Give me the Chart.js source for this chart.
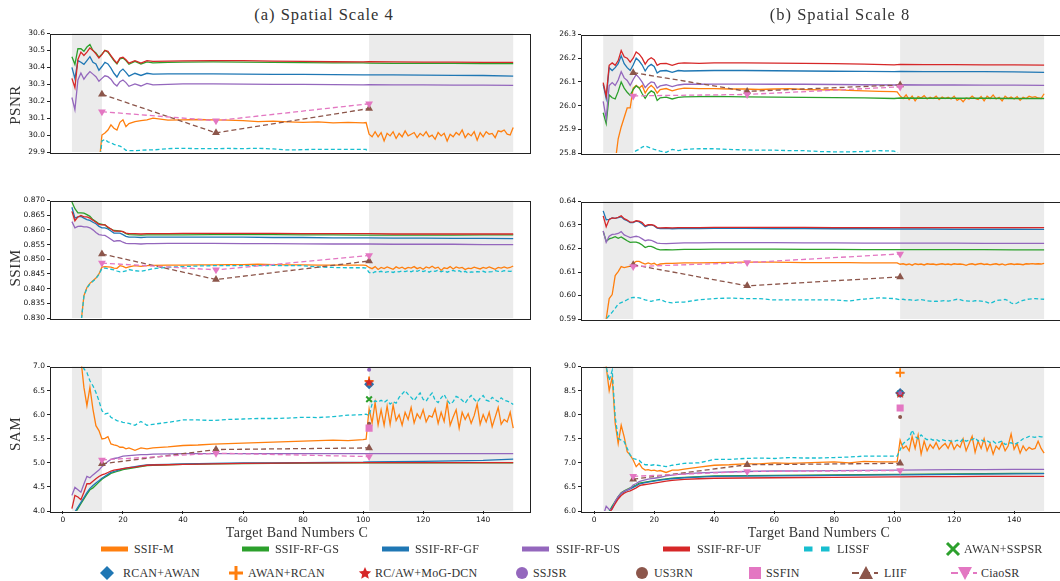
<!DOCTYPE html>
<html>
<head>
<meta charset="utf-8">
<script src="https://cdn.jsdelivr.net/npm/chart.js@4.4.1/dist/chart.umd.min.js"></script>
<style>
  html, body { margin: 0; padding: 0; background: #fff; overflow: hidden; }
  #wrap { position: relative; width: 1060px; height: 581px; overflow: hidden; }
  #wrap canvas { position: absolute; }
  .txt { position: absolute; font-family: "Liberation Serif", "Times New Roman", serif; color: #333; white-space: nowrap; }
  .lg { position: absolute; font-family: "Liberation Serif", "Times New Roman", serif; font-size: 12px; color: #333; white-space: nowrap; line-height: 14px; letter-spacing: 0.2px; }
  .lg-h { position: absolute; }
</style>
</head>
<body>
<div id="wrap"></div>
<script>
// ---- band positions (x values) ----
const bandsLine = [3,4,5,6,7,8,9,10,11,12,13,14,15,16,17,18,19,20,21,22,24,26,28,30,35,40,50,60,70,80,90,100,102,110,120,130,140,150];
const bandsNoisy = [3,4,5,6,7,8,9,10,11,12,13,14,15,16,17,18,19,20,21,22,
  24,26,28,30,35,40,45,50,55,60,65,70,75,80,85,90,95,100,101,
  102,103,104,105,106,107,108,109,110,111,112,113,114,115,116,117,118,119,120,121,122,123,124,125,
  126,127,128,129,130,131,132,133,134,135,136,137,138,139,140,141,142,143,144,145,146,147,148,149,150];
const sampledBands = [13, 51, 102];
const refBand = 102;
const shadedBands = [[3, 13], [102, 150]];
const bandTicks = [0, 20, 40, 60, 80, 100, 120, 140];

// ---- tick labels ----
const psnr4Ticks = [29.9, 30.0, 30.1, 30.2, 30.3, 30.4, 30.5, 30.6];
const psnr8Ticks = [25.8, 25.9, 26.0, 26.1, 26.2, 26.3];
const ssim4Ticks = [0.830, 0.835, 0.840, 0.845, 0.850, 0.855, 0.860, 0.865, 0.870];
const ssim8Ticks = [0.59, 0.60, 0.61, 0.62, 0.63, 0.64];
const sam4Ticks = [4.0, 4.5, 5.0, 5.5, 6.0, 6.5, 7.0];
const sam8Ticks = [6.0, 6.5, 7.0, 7.5, 8.0, 8.5, 9.0];

// ---- PSNR, scale 4 ----
const psnr4_M = [29.40,29.45,29.50,29.55,29.60,29.65,29.70,29.75,29.80,29.82,
  30.0,30.012,30.03,30.06,30.04,30.03,30.075,30.09,30.05,30.068,
  30.08,30.085,30.09,30.10,30.088,30.09,30.092,30.09,30.088,30.085,30.08,30.082,30.078,30.075,30.078,30.072,30.075,30.072,30.074,
  30.005,29.99,30.02,29.99,30.015,29.965,30.01,29.995,30.02,29.98,
  30.01,29.99,30.025,29.995,30.005,30.015,29.985,30.01,29.995,30.02,
  29.99,30.0,29.975,30.015,29.995,30.01,29.965,30.005,29.99,30.015,
  30.0,30.03,29.985,30.01,29.995,30.02,29.97,30.015,29.99,30.02,
  30.005,30.01,29.985,30.025,30.02,30.03,30.005,30.0,30.045];
const psnr4_GS = [30.463,30.418,30.51,30.51,30.495,30.52,30.535,30.50,30.485,30.46,30.478,30.50,30.49,30.465,30.44,30.42,30.45,30.455,30.44,30.418,
  30.435,30.42,30.432,30.427,30.43,30.431,30.432,30.431,30.43,30.428,30.427,30.426,30.425,30.424,30.423,30.423,30.422,30.422];
const psnr4_GF = [30.40,30.335,30.44,30.43,30.418,30.44,30.463,30.43,30.42,30.383,30.405,30.43,30.42,30.395,30.365,30.343,30.375,30.39,30.37,30.348,
  30.365,30.352,30.365,30.36,30.362,30.362,30.362,30.36,30.359,30.358,30.357,30.356,30.356,30.355,30.354,30.353,30.352,30.348];
const psnr4_US = [30.222,30.15,30.326,30.367,30.33,30.355,30.375,30.36,30.345,30.318,30.335,30.35,30.345,30.33,30.305,30.29,30.315,30.325,30.31,30.288,
  30.302,30.29,30.305,30.297,30.3,30.302,30.302,30.301,30.3,30.299,30.298,30.297,30.298,30.297,30.296,30.295,30.295,30.294];
const psnr4_UF = [30.335,30.28,30.447,30.49,30.47,30.49,30.515,30.50,30.48,30.455,30.475,30.50,30.495,30.47,30.445,30.425,30.455,30.46,30.445,30.425,
  30.44,30.425,30.44,30.435,30.437,30.438,30.44,30.44,30.437,30.435,30.433,30.432,30.433,30.432,30.431,30.431,30.43,30.43];
const psnr4_LISSF = [29.50,29.53,29.56,29.59,29.62,29.65,29.68,29.71,29.74,29.80,
  29.965,29.975,29.96,29.955,29.945,29.94,29.935,29.925,29.91,29.908,
  29.908,29.91,29.912,29.912,29.92,29.922,29.92,29.92,29.921,29.92,29.922,29.918,29.912,29.914,29.916,29.915,29.916,29.915,29.915,
  29.87,29.86,29.865,29.855,29.86,29.85,29.86,29.865,29.855,29.86,
  29.87,29.86,29.85,29.865,29.86,29.855,29.86,29.87,29.86,29.855,
  29.86,29.865,29.85,29.86,29.855,29.86,29.87,29.86,29.855,29.86,
  29.865,29.86,29.85,29.86,29.855,29.865,29.86,29.855,29.86,29.87,
  29.86,29.855,29.86,29.865,29.86,29.855,29.86,29.865,29.86];
const psnr4_LIIF = [30.241, 30.013, 30.157];
const psnr4_CiaoSR = [30.138, 30.085, 30.185];

// ---- PSNR, scale 8 ----
const psnr8_M = [25.40,25.50,25.60,25.70,25.76,25.86,25.91,25.95,25.99,25.99,
  26.074,26.085,26.074,26.085,26.053,26.074,26.085,26.074,26.053,26.068,
  26.072,26.062,26.07,26.074,26.072,26.072,26.07,26.07,26.068,26.07,26.072,26.068,26.066,26.067,26.064,26.062,26.06,26.059,26.058,
  26.041,26.03,26.045,26.025,26.04,26.02,26.038,26.032,26.042,26.028,
  26.035,26.03,26.04,26.025,26.036,26.03,26.035,26.028,26.04,26.022,
  26.03,26.016,26.032,26.028,26.04,26.03,26.026,26.038,26.02,26.04,
  26.03,26.045,26.028,26.035,26.02,26.04,26.03,26.036,26.028,26.038,
  26.022,26.035,26.03,26.04,26.035,26.038,26.032,26.03,26.05];
const psnr8_GS = [25.97,25.924,26.045,26.033,26.028,26.06,26.10,26.074,26.056,26.043,26.068,26.083,26.074,26.05,26.031,26.05,26.062,26.055,26.022,26.033,
  26.036,26.028,26.035,26.037,26.038,26.039,26.037,26.036,26.035,26.034,26.033,26.03,26.032,26.031,26.031,26.031,26.03,26.03];
const psnr8_GF = [26.09,26.03,26.16,26.148,26.16,26.177,26.21,26.177,26.16,26.148,26.171,26.20,26.188,26.171,26.146,26.165,26.174,26.165,26.137,26.146,
  26.148,26.14,26.148,26.146,26.147,26.148,26.148,26.147,26.146,26.145,26.144,26.143,26.144,26.143,26.143,26.143,26.142,26.14];
const psnr8_US = [26.018,25.945,26.085,26.097,26.085,26.108,26.143,26.117,26.106,26.085,26.11,26.131,26.117,26.099,26.076,26.09,26.10,26.097,26.074,26.083,
  26.088,26.08,26.087,26.09,26.09,26.091,26.091,26.09,26.09,26.089,26.088,26.087,26.088,26.087,26.087,26.086,26.086,26.085];
const psnr8_UF = [26.097,26.04,26.17,26.18,26.17,26.19,26.232,26.206,26.20,26.183,26.20,26.226,26.217,26.20,26.175,26.194,26.202,26.194,26.17,26.177,
  26.178,26.17,26.178,26.18,26.178,26.18,26.18,26.179,26.178,26.177,26.175,26.172,26.174,26.173,26.173,26.172,26.172,26.171];
const psnr8_LISSF = [25.60,25.62,25.64,25.66,25.68,25.70,25.72,25.74,25.76,25.78,
  25.80,25.81,25.815,25.825,25.83,25.825,25.82,25.815,25.812,25.808,
  25.803,25.815,25.81,25.815,25.818,25.818,25.815,25.813,25.812,25.812,25.81,25.81,25.806,25.805,25.805,25.806,25.81,25.808,25.803,
  25.78,25.77,25.775,25.765,25.77,25.76,25.77,25.775,25.765,25.77,
  25.78,25.77,25.76,25.775,25.77,25.765,25.77,25.78,25.77,25.765,
  25.77,25.775,25.76,25.77,25.765,25.77,25.78,25.77,25.765,25.77,
  25.775,25.77,25.76,25.77,25.765,25.775,25.77,25.765,25.77,25.78,
  25.77,25.765,25.77,25.775,25.77,25.765,25.77,25.775,25.77];
const psnr8_LIIF = [26.139, 26.06, 26.087];
const psnr8_CiaoSR = [26.041, 26.047, 26.079];

// ---- SSIM, scale 4 ----
const ssim4_M = [0.79,0.80,0.815,0.828,0.8376,0.8404,0.8418,0.8427,0.8436,0.845,
  0.8473,0.8475,0.8474,0.8473,0.847,0.8469,0.8478,0.8476,0.8471,0.8474,
  0.8478,0.8476,0.8478,0.8479,0.848,0.848,0.8481,0.8481,0.8482,0.8482,0.8483,0.8482,0.8481,0.8481,0.848,0.848,0.848,0.848,0.8479,
  0.8472,0.8468,0.8475,0.8465,0.8472,0.8468,0.8474,0.847,0.8466,0.8474,
  0.8469,0.8473,0.8467,0.8472,0.847,0.8475,0.8468,0.8472,0.8466,0.8474,
  0.847,0.8476,0.8469,0.8473,0.8462,0.8471,0.8468,0.8475,0.8467,0.8474,
  0.847,0.8472,0.8465,0.847,0.8468,0.8473,0.847,0.8467,0.8472,0.8469,
  0.8474,0.847,0.8466,0.8472,0.847,0.8474,0.847,0.8472,0.8477];
const ssim4_GS = [0.8695,0.8672,0.8658,0.8658,0.8657,0.8652,0.8646,0.8635,0.8628,0.8621,0.8619,0.8617,0.8607,0.8603,0.8598,0.8597,0.8596,0.8594,0.8587,0.8584,
  0.8583,0.8582,0.8583,0.8583,0.8583,0.8583,0.8584,0.8584,0.8584,0.8583,0.8583,0.8582,0.8582,0.8582,0.8582,0.8582,0.8583,0.8583];
const ssim4_GF = [0.8677,0.864,0.8644,0.8646,0.864,0.8635,0.8632,0.8626,0.8621,0.8612,0.8607,0.8607,0.8603,0.8596,0.8589,0.8589,0.8589,0.8584,0.8578,0.8575,
  0.8575,0.8574,0.8575,0.8575,0.8575,0.8575,0.8575,0.8575,0.8574,0.8574,0.8573,0.8573,0.8573,0.8572,0.8572,0.8571,0.8571,0.857];
const ssim4_US = [0.8628,0.8607,0.8612,0.8613,0.861,0.861,0.8607,0.86,0.8591,0.8584,0.8582,0.8581,0.8575,0.8568,0.8561,0.8563,0.8563,0.8558,0.8554,0.8553,
  0.8553,0.8552,0.8553,0.8553,0.8554,0.8554,0.8554,0.8553,0.8553,0.8552,0.8552,0.8552,0.8552,0.8551,0.8551,0.8551,0.855,0.855];
const ssim4_UF = [0.8663,0.8631,0.8644,0.8649,0.8644,0.8644,0.864,0.8633,0.8626,0.8619,0.8617,0.8617,0.861,0.8603,0.8596,0.8596,0.8596,0.8594,0.8589,0.8587,
  0.8587,0.8586,0.8587,0.8587,0.8587,0.8588,0.8588,0.8588,0.8588,0.8587,0.8587,0.8587,0.8587,0.8586,0.8586,0.8586,0.8586,0.8586];
const ssim4_LISSF = [0.79,0.80,0.815,0.828,0.8374,0.8402,0.8416,0.8425,0.8434,0.8448,
  0.8469,0.847,0.8468,0.8466,0.8464,0.846,0.8457,0.8458,0.846,0.8465,
  0.8461,0.8459,0.8463,0.8468,0.8473,0.8475,0.8477,0.8478,0.8478,0.8478,0.8478,0.8479,0.8478,0.8478,0.8474,0.8472,0.8471,0.8471,0.847,
  0.8455,0.8452,0.8458,0.8456,0.8459,0.8455,0.8457,0.8458,0.8455,0.8459,
  0.8457,0.846,0.8458,0.8461,0.8457,0.8462,0.8459,0.8463,0.8458,0.8462,
  0.8456,0.8461,0.8459,0.8463,0.8457,0.8461,0.8456,0.846,0.8462,0.8458,
  0.8461,0.8455,0.8459,0.8453,0.8457,0.8456,0.8458,0.8457,0.8459,0.8455,
  0.8457,0.8458,0.8461,0.8459,0.8458,0.8461,0.846,0.8459,0.846];
const ssim4_LIIF = [0.8518, 0.8431, 0.8494];
const ssim4_CiaoSR = [0.8487, 0.8464, 0.8513];

// ---- SSIM, scale 8 ----
const ssim8_M = [0.582,0.59,0.5987,0.6004,0.6085,0.6102,0.6123,0.6119,0.6122,0.6125,
  0.6137,0.6145,0.6145,0.6139,0.6134,0.6139,0.6134,0.6137,0.6129,0.6134,
  0.6137,0.6137,0.6138,0.6139,0.6139,0.614,0.6141,0.6142,0.6142,0.6142,0.6141,0.614,0.614,0.614,0.614,0.6139,0.6139,0.6139,0.6139,
  0.6133,0.6135,0.6131,0.6134,0.6129,0.6135,0.6132,0.6134,0.613,0.6135,
  0.6133,0.6134,0.6131,0.6133,0.6135,0.6132,0.6134,0.6131,0.6135,0.6133,
  0.6134,0.6132,0.6128,0.6133,0.6135,0.6131,0.6134,0.6136,0.6132,0.6134,
  0.613,0.6133,0.6135,0.6131,0.6134,0.6129,0.6133,0.6135,0.6132,0.6134,
  0.6133,0.6131,0.6135,0.6134,0.6136,0.6134,0.6135,0.6134,0.6137];
const ssim8_GS = [0.6273,0.6231,0.6241,0.6245,0.625,0.6243,0.6249,0.6241,0.6233,0.6226,0.6227,0.6227,0.6223,0.6215,0.6204,0.6209,0.6209,0.6204,0.6197,0.6194,
  0.6195,0.6194,0.6195,0.6196,0.6196,0.6197,0.6197,0.6197,0.6196,0.6196,0.6195,0.6195,0.6195,0.6195,0.6195,0.6195,0.6194,0.6194];
const ssim8_GF = [0.636,0.6322,0.6324,0.633,0.6328,0.6331,0.6335,0.6324,0.6318,0.631,0.631,0.6316,0.6313,0.6304,0.6293,0.6298,0.6301,0.6296,0.6287,0.6285,
  0.6286,0.6284,0.6285,0.6285,0.6285,0.6286,0.6286,0.6285,0.6285,0.6284,0.6284,0.6283,0.6283,0.6283,0.6282,0.6282,0.6282,0.6281];
const ssim8_US = [0.6275,0.6226,0.6252,0.626,0.6261,0.6264,0.6272,0.6258,0.6252,0.6246,0.6249,0.6252,0.6249,0.6241,0.6233,0.6237,0.6235,0.6229,0.6223,0.6222,
  0.6221,0.6222,0.6223,0.6224,0.6224,0.6225,0.6225,0.6225,0.6224,0.6224,0.6223,0.6223,0.6223,0.6223,0.6223,0.6222,0.6222,0.6222];
const ssim8_UF = [0.6339,0.6293,0.6324,0.633,0.6328,0.6333,0.6339,0.6327,0.6321,0.6312,0.6312,0.6318,0.6316,0.631,0.6296,0.6301,0.6301,0.6298,0.6289,0.6288,
  0.6289,0.6288,0.6289,0.6289,0.6289,0.629,0.629,0.629,0.629,0.6289,0.6289,0.6289,0.6289,0.6289,0.6289,0.6289,0.6289,0.6289];
const ssim8_LISSF = [0.585,0.59,0.5915,0.5929,0.5945,0.5964,0.597,0.5975,0.5982,0.5989,
  0.5992,0.5991,0.599,0.5986,0.5981,0.5978,0.5975,0.5979,0.5981,0.5983,
  0.5972,0.5969,0.5972,0.5972,0.5982,0.5987,0.5989,0.5987,0.5987,0.5981,0.5981,0.5981,0.5981,0.5981,0.5977,0.5985,0.599,0.5987,0.5985,
  0.5982,0.5984,0.5981,0.5982,0.598,0.5979,0.5981,0.5982,0.598,0.5977,
  0.5976,0.5975,0.5976,0.5975,0.5977,0.5978,0.5976,0.5979,0.5981,0.5984,
  0.5982,0.5978,0.5977,0.5976,0.5975,0.5978,0.5977,0.5976,0.5975,0.5971,
  0.5966,0.5972,0.5978,0.598,0.5981,0.5983,0.5978,0.5968,0.5964,0.5968,
  0.5975,0.5979,0.5983,0.5985,0.5986,0.5987,0.5986,0.5985,0.5984];
const ssim8_LIIF = [0.6131, 0.6041, 0.6079];
const ssim8_CiaoSR = [0.6123, 0.614, 0.6177];

// ---- SAM, scale 4 ----
const sam4_M = [8.6,8.1,7.6,7.15,6.566,6.186,6.566,6.117,5.772,5.669,
  5.497,5.51,5.545,5.393,5.375,5.359,5.324,5.324,5.29,5.31,
  5.26,5.31,5.29,5.31,5.33,5.36,5.37,5.39,5.4,5.41,5.42,5.43,5.44,5.45,5.46,5.47,5.46,5.48,5.49,
  6.12,5.83,6.25,5.79,6.1,5.78,6.18,5.8,6.2,5.88,
  6.0,5.78,6.05,5.9,6.15,5.83,6.02,5.92,6.1,5.85,
  5.98,5.95,6.12,5.82,6.05,5.86,6.25,5.78,5.95,6.1,
  5.72,6.05,5.9,6.02,5.82,5.98,6.22,5.8,6.0,5.85,
  6.05,5.75,5.95,6.15,5.8,5.9,5.85,6.05,5.72];
const sam4_GS = [3.82,3.95,4.05,4.15,4.25,4.35,4.44,4.48,4.54,4.6,4.66,4.7,4.74,4.78,4.8,4.82,4.84,4.86,4.87,4.88,
  4.9,4.92,4.94,4.95,4.96,4.97,4.98,4.985,4.99,4.995,5.0,5.0,5.0,5.0,5.0,5.0,5.0,5.0];
const sam4_GF = [3.85,3.98,4.08,4.18,4.28,4.38,4.47,4.53,4.58,4.63,4.68,4.72,4.76,4.8,4.82,4.84,4.86,4.88,4.89,4.9,
  4.92,4.94,4.955,4.96,4.97,4.98,4.99,5.0,5.0,5.005,5.01,5.015,5.02,5.025,5.03,5.04,5.05,5.075];
const sam4_US = [4.324,4.49,4.44,4.39,4.56,4.72,4.69,4.75,4.8,4.85,4.92,4.97,5.03,5.07,5.09,5.1,5.12,5.14,5.145,5.15,
  5.16,5.17,5.17,5.18,5.185,5.19,5.19,5.19,5.19,5.19,5.19,5.19,5.19,5.19,5.19,5.19,5.19,5.19];
const sam4_UF = [4.048,4.324,4.29,4.234,4.39,4.566,4.566,4.62,4.67,4.717,4.75,4.77,4.8,4.83,4.85,4.86,4.87,4.88,4.89,4.9,
  4.91,4.93,4.95,4.955,4.96,4.97,4.98,4.99,4.995,5.0,5.0,5.005,5.005,5.005,5.005,5.005,5.005,5.005];
const sam4_LISSF = [9.0,8.5,8.0,7.4,6.95,6.876,6.703,6.6,6.462,6.29,
  6.083,6.014,6.03,5.945,5.91,5.876,5.86,5.841,5.83,5.82,
  5.78,5.86,5.78,5.8,5.84,5.89,5.89,5.88,5.9,5.91,5.92,5.92,5.93,5.945,5.94,5.96,5.99,6.0,6.01,
  5.98,6.22,6.29,6.26,6.3,6.25,6.3,6.22,6.27,6.24,
  6.36,6.43,6.5,6.42,6.36,6.29,6.38,6.45,6.32,6.28,
  6.38,6.45,6.3,6.25,6.35,6.42,6.3,6.22,6.27,6.38,
  6.35,6.3,6.24,6.33,6.4,6.32,6.26,6.34,6.4,6.3,
  6.28,6.36,6.31,6.27,6.35,6.3,6.28,6.26,6.21];
const sam4_LIIF = [4.979, 5.276, 5.31];
const sam4_CiaoSR = [5.06, 5.2, 5.13];
// AWAN+SSPSR, RCAN+AWAN, AWAN+RCAN, RC/AW+MoG-DCN, SSJSR, US3RN, SSFIN
const sam4_Refs = [6.32, 6.63, 6.70, 6.67, 6.93, 5.81, 5.72];

// ---- SAM, scale 8 ----
const sam8_M = [9.6,9.0,8.5,8.78,7.82,7.4,7.78,7.54,7.23,7.16,
  7.06,6.92,6.99,6.89,6.85,6.86,6.84,6.85,6.83,6.84,
  6.8,6.85,6.85,6.87,6.91,6.95,6.96,6.98,6.98,7.0,6.99,7.0,7.01,7.02,7.0,7.03,7.02,7.02,7.02,
  7.47,7.3,7.35,7.25,7.55,7.3,7.58,7.18,7.45,7.25,
  7.38,7.3,7.42,7.28,7.35,7.4,7.3,7.45,7.28,7.38,
  7.32,7.5,7.25,7.4,7.55,7.22,7.45,7.3,7.5,7.25,
  7.4,7.18,7.35,7.28,7.42,7.25,7.35,7.6,7.28,7.4,
  7.2,7.35,7.25,7.32,7.28,7.3,7.45,7.3,7.2];
const sam8_GS = [5.7,5.85,5.99,6.1,6.2,6.3,6.38,6.42,6.45,6.48,6.51,6.54,6.58,6.59,6.6,6.61,6.62,6.63,6.64,6.65,
  6.665,6.68,6.69,6.7,6.715,6.73,6.735,6.74,6.745,6.75,6.755,6.76,6.76,6.765,6.77,6.775,6.78,6.78];
const sam8_GF = [5.68,5.83,5.97,6.08,6.18,6.28,6.36,6.4,6.43,6.46,6.49,6.52,6.56,6.575,6.59,6.6,6.61,6.62,6.63,6.64,
  6.655,6.67,6.68,6.69,6.705,6.72,6.725,6.73,6.735,6.74,6.745,6.75,6.75,6.755,6.76,6.765,6.77,6.775];
const sam8_US = [5.9,6.1,6.03,6.04,6.2,6.3,6.37,6.41,6.44,6.47,6.54,6.57,6.61,6.63,6.645,6.66,6.67,6.68,6.69,6.7,
  6.73,6.745,6.76,6.77,6.79,6.8,6.82,6.83,6.835,6.84,6.845,6.85,6.85,6.855,6.86,6.86,6.865,6.865];
const sam8_UF = [5.65,5.8,5.95,6.05,6.15,6.25,6.32,6.37,6.4,6.42,6.45,6.48,6.52,6.54,6.55,6.56,6.57,6.58,6.59,6.6,
  6.62,6.635,6.645,6.655,6.67,6.68,6.685,6.69,6.695,6.7,6.705,6.71,6.71,6.712,6.715,6.717,6.72,6.72];
const sam8_LISSF = [9.5,9.0,8.71,8.92,7.95,7.51,7.47,7.44,7.3,7.16,
  7.09,7.07,7.05,6.99,6.96,6.96,6.95,6.96,6.95,6.94,
  6.92,6.95,6.97,6.99,7.0,7.07,7.07,7.09,7.1,7.09,7.11,7.1,7.1,7.11,7.12,7.14,7.14,7.14,7.14,
  7.27,7.4,7.45,7.5,7.68,7.55,7.5,7.58,7.52,7.48,
  7.5,7.47,7.49,7.45,7.48,7.46,7.47,7.45,7.44,7.47,
  7.43,7.5,7.45,7.47,7.48,7.52,7.45,7.48,7.44,7.46,
  7.42,7.45,7.4,7.43,7.45,7.38,7.4,7.42,7.38,7.41,
  7.45,7.5,7.52,7.55,7.54,7.53,7.55,7.54,7.54];
const sam8_LIIF = [6.66, 6.96, 6.99];
const sam8_CiaoSR = [6.72, 6.82, 6.84];
const sam8_Refs = [8.44, 8.45, 8.87, 8.43, 8.45, 7.95, 8.14];

// ---- styling ----
const C = {
  orange: '#ff7f0e', green: '#2ca02c', blue: '#1f77b4', purple: '#9467bd',
  red: '#d62728', cyan: '#17becf', brown: '#8c564b', pink: '#e377c2'
};

function starCanvas(r, color) {
  const s = Math.ceil(r * 2 + 2);
  const c = document.createElement('canvas');
  c.width = c.height = s;
  const g = c.getContext('2d');
  g.fillStyle = color;
  g.beginPath();
  for (let i = 0; i < 10; i++) {
    const rr = i % 2 ? r * 0.45 : r;
    const a = -Math.PI / 2 + i * Math.PI / 5;
    g.lineTo(s / 2 + rr * Math.cos(a), s / 2 + rr * Math.sin(a));
  }
  g.closePath();
  g.fill();
  return c;
}

const refStyles = [
  { pointStyle: 'crossRot', pointRadius: 4, pointBorderColor: C.green, pointBorderWidth: 2 },
  { pointStyle: 'rectRot', pointRadius: 5, pointBackgroundColor: C.blue, pointBorderColor: C.blue, pointBorderWidth: 0 },
  { pointStyle: 'cross', pointRadius: 4.5, pointBorderColor: C.orange, pointBorderWidth: 1.8 },
  { pointStyle: starCanvas(5, C.red), pointRadius: 5 },
  { pointStyle: 'circle', pointRadius: 2, pointBackgroundColor: C.purple, pointBorderColor: C.purple, pointBorderWidth: 0 },
  { pointStyle: 'circle', pointRadius: 2, pointBackgroundColor: C.brown, pointBorderColor: C.brown, pointBorderWidth: 0 },
  { pointStyle: 'rect', pointRadius: 5, pointBackgroundColor: C.pink, pointBorderColor: C.pink, pointBorderWidth: 0 }
];

const leftX = { min: -4.3, max: 155.6 };
const rightX = { min: -4.4, max: 157.3 };

const panels = [
  { left: 50, top: 33, right: 530, bottom: 178, x: leftX, yMin: 29.9, yMax: 30.6, ticks: psnr4Ticks, dec: 1, xAxis: false,
    M: psnr4_M, GS: psnr4_GS, GF: psnr4_GF, US: psnr4_US, UF: psnr4_UF, LISSF: psnr4_LISSF, LIIF: psnr4_LIIF, Ciao: psnr4_CiaoSR },
  { left: 581, top: 34, right: 1066, bottom: 179, x: rightX, yMin: 25.8, yMax: 26.3, ticks: psnr8Ticks, dec: 1, xAxis: false,
    M: psnr8_M, GS: psnr8_GS, GF: psnr8_GF, US: psnr8_US, UF: psnr8_UF, LISSF: psnr8_LISSF, LIIF: psnr8_LIIF, Ciao: psnr8_CiaoSR },
  { left: 50, top: 200, right: 530, bottom: 344, x: leftX, yMin: 0.830, yMax: 0.870, ticks: ssim4Ticks, dec: 3, xAxis: false,
    M: ssim4_M, GS: ssim4_GS, GF: ssim4_GF, US: ssim4_US, UF: ssim4_UF, LISSF: ssim4_LISSF, LIIF: ssim4_LIIF, Ciao: ssim4_CiaoSR },
  { left: 581, top: 201, right: 1066, bottom: 345, x: rightX, yMin: 0.59, yMax: 0.64, ticks: ssim8Ticks, dec: 2, xAxis: false,
    M: ssim8_M, GS: ssim8_GS, GF: ssim8_GF, US: ssim8_US, UF: ssim8_UF, LISSF: ssim8_LISSF, LIIF: ssim8_LIIF, Ciao: ssim8_CiaoSR },
  { left: 50, top: 366, right: 530, bottom: 511, x: leftX, yMin: 4.0, yMax: 7.0, ticks: sam4Ticks, dec: 1, xAxis: true,
    M: sam4_M, GS: sam4_GS, GF: sam4_GF, US: sam4_US, UF: sam4_UF, LISSF: sam4_LISSF, LIIF: sam4_LIIF, Ciao: sam4_CiaoSR, refs: sam4_Refs },
  { left: 581, top: 366, right: 1066, bottom: 511, x: rightX, yMin: 6.0, yMax: 9.0, ticks: sam8Ticks, dec: 1, xAxis: true,
    M: sam8_M, GS: sam8_GS, GF: sam8_GF, US: sam8_US, UF: sam8_UF, LISSF: sam8_LISSF, LIIF: sam8_LIIF, Ciao: sam8_CiaoSR, refs: sam8_Refs }
];

Chart.defaults.font.family = "'DejaVu Sans', sans-serif";
Chart.defaults.font.size = 7.5;
Chart.defaults.color = '#111';

const frame = {
  id: 'frame',
  beforeDatasetsDraw(chart) {
    const { ctx, chartArea: a, scales: { x } } = chart;
    ctx.save();
    ctx.fillStyle = '#ebebeb';
    shadedBands.forEach(([b0, b1]) => {
      const x0 = x.getPixelForValue(b0), x1 = x.getPixelForValue(b1);
      ctx.fillRect(x0, a.top, x1 - x0, a.bottom - a.top);
    });
    ctx.restore();
  },
  afterDatasetsDraw(chart) {
    const { ctx, chartArea: a } = chart;
    ctx.save();
    ctx.strokeStyle = '#222';
    ctx.lineWidth = 1;
    ctx.strokeRect(Math.round(a.left) + 0.5, Math.round(a.top) + 0.5, Math.round(a.right - a.left), Math.round(a.bottom - a.top));
    ctx.restore();
  }
};

const wrap = document.getElementById('wrap');
const pts = (xs, ys) => ys.slice(0, xs.length).map((y, i) => ({ x: xs[i], y }));

function makePanel(P) {
  const cv = document.createElement('canvas');
  const padT = 6, padR = 8, axisW = 50, axisH = 26;
  const w = P.right - P.left + axisW + padR;
  const h = P.bottom - P.top + padT + (P.xAxis ? axisH : 6);
  cv.width = w; cv.height = h;
  cv.style.width = w + 'px'; cv.style.height = h + 'px';
  cv.style.left = (P.left - axisW) + 'px';
  cv.style.top = (P.top - padT) + 'px';
  wrap.appendChild(cv);

  const line = (data, color, dash) => ({
    data, borderColor: color, backgroundColor: color, borderWidth: 1.3,
    borderDash: dash || [], pointRadius: 0, fill: false, tension: 0
  });
  const ds = [
    line(pts(bandsNoisy, P.M), C.orange),
    line(pts(bandsLine, P.GS), C.green),
    line(pts(bandsLine, P.GF), C.blue),
    line(pts(bandsLine, P.US), C.purple),
    line(pts(bandsLine, P.UF), C.red),
    line(pts(bandsNoisy, P.LISSF), C.cyan, [4, 2.5])
  ];
  if (P.refs) {
    P.refs.forEach((v, i) => {
      ds.push(Object.assign({ data: [{ x: refBand, y: v }], showLine: false, borderWidth: 0 }, refStyles[i]));
    });
  }
  ds.push(Object.assign(line(pts(sampledBands, P.LIIF), C.brown, [5, 3]),
    { pointStyle: 'triangle', pointRadius: 4.5, pointBackgroundColor: C.brown, pointBorderColor: C.brown, pointBorderWidth: 0 }));
  ds.push(Object.assign(line(pts(sampledBands, P.Ciao), C.pink, [5, 3]),
    { pointStyle: 'triangle', pointRotation: 180, pointRadius: 4.5, pointBackgroundColor: C.pink, pointBorderColor: C.pink, pointBorderWidth: 0 }));
  ds.forEach((d, i) => { d.order = -i; });

  new Chart(cv, {
    type: 'line',
    data: { datasets: ds },
    options: {
      responsive: false, animation: false, devicePixelRatio: 1, events: [],
      layout: { padding: { left: 0, top: padT, right: padR, bottom: P.xAxis ? 0 : 6 } },
      plugins: { legend: { display: false }, tooltip: { enabled: false } },
      scales: {
        x: {
          type: 'linear', display: P.xAxis, min: P.x.min, max: P.x.max,
          afterBuildTicks: s => { s.ticks = bandTicks.map(v => ({ value: v })); },
          afterFit: s => { s.height = axisH; },
          ticks: { autoSkip: false, maxRotation: 0, padding: 2, callback: v => String(v) },
          grid: { display: true, drawOnChartArea: false, drawTicks: true, tickLength: 3, color: '#222' },
          border: { display: false }
        },
        y: {
          type: 'linear', min: P.yMin, max: P.yMax,
          afterBuildTicks: s => { s.ticks = P.ticks.map(v => ({ value: v })); },
          afterFit: s => { s.width = axisW; },
          ticks: { autoSkip: false, padding: 2, callback: v => Number(v).toFixed(P.dec) },
          grid: { display: true, drawOnChartArea: false, drawTicks: true, tickLength: 3, color: '#222' },
          border: { display: false }
        }
      }
    },
    plugins: [frame]
  });
}
panels.forEach(makePanel);

// ---- text ----
function addText(str, cx, cy, size, rotate, spacing) {
  const d = document.createElement('div');
  d.className = 'txt';
  d.textContent = str;
  d.style.fontSize = size + 'px';
  if (spacing) d.style.letterSpacing = spacing + 'px';
  d.style.left = cx + 'px';
  d.style.top = cy + 'px';
  d.style.transform = 'translate(-50%, -50%)' + (rotate ? ' rotate(-90deg)' : '');
  wrap.appendChild(d);
}
addText('(a) Spatial Scale 4', 324, 15, 16.5, false, 1);
addText('(b) Spatial Scale 8', 840, 15, 16.5, false, 1);
addText('PSNR', 15, 105, 15, true, 0.5);
addText('SSIM', 15, 268, 15, true, 0.5);
addText('SAM', 15, 434, 15, true, 0.5);
addText('Target Band Numbers C', 297, 533, 14, false, 0.3);
addText('Target Band Numbers C', 819, 533, 14, false, 0.3);

// ---- legend ----
function svgHandle(kind, color) {
  let s = '';
  if (kind === 'line') s = `<line x1="0" y1="8" x2="27" y2="8" stroke="${color}" stroke-width="5"/>`;
  else if (kind === 'dash') s = `<line x1="0" y1="8" x2="26" y2="8" stroke="${color}" stroke-width="5" stroke-dasharray="8.5,8.5"/>`;
  else if (kind === 'x') s = `<line x1="2" y1="2" x2="14" y2="14" stroke="${color}" stroke-width="3"/><line x1="2" y1="14" x2="14" y2="2" stroke="${color}" stroke-width="3"/>`;
  else if (kind === 'diamond') s = `<polygon points="8,1 15,8 8,15 1,8" fill="${color}"/>`;
  else if (kind === 'plus') s = `<line x1="8" y1="1" x2="8" y2="15" stroke="${color}" stroke-width="3"/><line x1="1" y1="8" x2="15" y2="8" stroke="${color}" stroke-width="3"/>`;
  else if (kind === 'star') {
    const p = [];
    for (let i = 0; i < 10; i++) {
      const r = i % 2 ? 3 : 6.5, a = -Math.PI / 2 + i * Math.PI / 5;
      p.push((8 + r * Math.cos(a)).toFixed(2) + ',' + (8.5 + r * Math.sin(a)).toFixed(2));
    }
    s = `<polygon points="${p.join(' ')}" fill="${color}"/>`;
  }
  else if (kind === 'circle') s = `<circle cx="8" cy="8" r="6" fill="${color}"/>`;
  else if (kind === 'square') s = `<rect x="2" y="2" width="12" height="12" fill="${color}"/>`;
  else if (kind === 'tri') s = `<line x1="0" y1="8" x2="26" y2="8" stroke="${color}" stroke-width="2" stroke-dasharray="7,4"/><polygon points="14,1 21,14 7,14" fill="${color}"/>`;
  else if (kind === 'tridown') s = `<line x1="0" y1="8" x2="26" y2="8" stroke="${color}" stroke-width="2" stroke-dasharray="7,4"/><polygon points="7,2 21,2 14,15" fill="${color}"/>`;
  return `<svg width="28" height="16" xmlns="http://www.w3.org/2000/svg">${s}</svg>`;
}

const legendItems = [
  { label: 'SSIF-M', kind: 'line', color: C.orange, hx: 101, tx: 134, y: 549 },
  { label: 'SSIF-RF-GS', kind: 'line', color: C.green, hx: 242, tx: 275, y: 549 },
  { label: 'SSIF-RF-GF', kind: 'line', color: C.blue, hx: 382, tx: 415, y: 549 },
  { label: 'SSIF-RF-US', kind: 'line', color: C.purple, hx: 522, tx: 556, y: 549 },
  { label: 'SSIF-RF-UF', kind: 'line', color: C.red, hx: 663, tx: 697, y: 549 },
  { label: 'LISSF', kind: 'dash', color: C.cyan, hx: 804, tx: 837, y: 549 },
  { label: 'AWAN+SSPSR', kind: 'x', color: C.green, hx: 945, tx: 964, y: 549 },
  { label: 'RCAN+AWAN', kind: 'diamond', color: C.blue, hx: 99, tx: 123, y: 573 },
  { label: 'AWAN+RCAN', kind: 'plus', color: C.orange, hx: 228, tx: 248, y: 573 },
  { label: 'RC/AW+MoG-DCN', kind: 'star', color: C.red, hx: 357, tx: 375, y: 573 },
  { label: 'SSJSR', kind: 'circle', color: C.purple, hx: 514, tx: 533, y: 573 },
  { label: 'US3RN', kind: 'circle', color: C.brown, hx: 634, tx: 654, y: 573 },
  { label: 'SSFIN', kind: 'square', color: C.pink, hx: 747, tx: 766, y: 573 },
  { label: 'LIIF', kind: 'tri', color: C.brown, hx: 852, tx: 884, y: 573 },
  { label: 'CiaoSR', kind: 'tridown', color: C.pink, hx: 951, tx: 981, y: 573 }
];
legendItems.forEach(it => {
  const h = document.createElement('div');
  h.className = 'lg-h';
  h.style.left = it.hx + 'px';
  h.style.top = (it.y - 8) + 'px';
  h.innerHTML = svgHandle(it.kind, it.color);
  wrap.appendChild(h);
  const t = document.createElement('div');
  t.className = 'lg';
  t.textContent = it.label;
  t.style.left = it.tx + 'px';
  t.style.top = (it.y - 7) + 'px';
  wrap.appendChild(t);
});
</script>
</body>
</html>
